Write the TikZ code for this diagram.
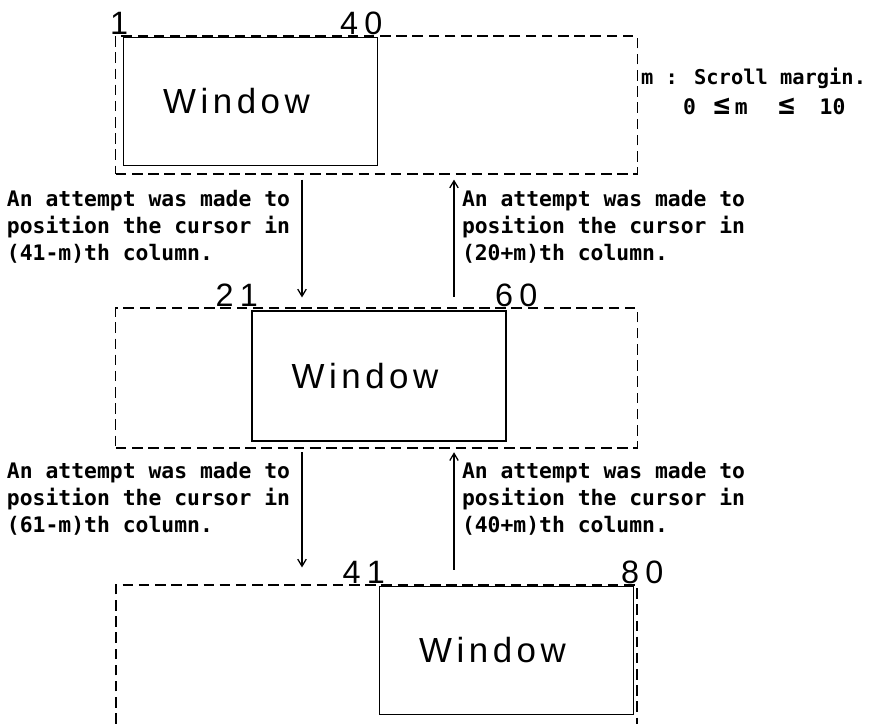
\documentclass[tikz,border=0pt]{standalone}
\usepackage{fontspec}
\usepackage{tikz}
\usetikzlibrary{arrows.meta,positioning}

\newfontfamily\notefont{DejaVu Sans Mono}
\newfontfamily\winfont[LetterSpace=13]{Liberation Sans}
\newfontfamily\colfont[LetterSpace=20]{Liberation Sans}
\newcommand{\winlabel}{Window\hspace*{0.7cm}}
\newcommand{\leqw}{\makebox[0.65cm]{\fontsize{20}{20}\selectfont ≤}}

\begin{document}
\begin{tikzpicture}[
  x=0.025cm, y=-0.025cm,
  every node/.style={inner sep=0pt, outer sep=0pt},
  dashline/.style={draw, dash pattern=on 7.5pt off 4pt, line width=0.75pt},
  frame/.style={rectangle, dashline, minimum width=13.025cm},
  win/.style={rectangle, draw, line width=0.9pt, minimum width=6.35cm,
              minimum height=3.2cm, font={\winfont\fontsize{24.8}{28}\selectfont}},
  colnum/.style={font={\colfont\fontsize{23}{24}\selectfont}},
  note/.style={align=left, font={\notefont\bfseries\fontsize{15.2}{19.2}\selectfont}},
  arrow/.style={-{Straight Barb[length=5pt,width=6pt]}, line width=0.9pt}
]
\useasboundingbox (0,0) rectangle (874,723);

% the 80 columns of a line
\node[frame, minimum height=3.45cm] (line1) at (376.5,105) {};
\node[frame, minimum height=3.5cm] (line2) at (376.5,378) {};
\coordinate (line3sw) at (116,740);
\coordinate (line3nw) at (116,585);
\coordinate (line3ne) at (637,585);
\coordinate (line3se) at (637,740);
\draw[dashline] (line3sw) -- (line3nw) -- (line3ne) -- (line3se);

% the 40 columns shown
\node[win] (win1) at (250.5,101.5) {\winlabel};
\node[win, minimum height=3.25cm] (win2) at (379,376) {\winlabel};
\node[win] (win3) at (506.5,650.5) {\winlabel};

\node[colnum, anchor=base east] (c1) at (128,34) {1};
\node[colnum, anchor=base west] (c40) at (340,34) {40};
\node[colnum, anchor=base east] (c21) at (258,306) {21};
\node[colnum, anchor=base west] (c60) at (495,306) {60};
\node[colnum, anchor=base east] (c41) at (385,583) {41};
\node[colnum, anchor=base west] (c80) at (621,583) {80};

\node[note, anchor=north west, font={\notefont\bfseries\fontsize{14.5}{19.2}\selectfont}]
  (margin) at (641,68) {m : Scroll margin.};
\node[note, anchor=north west] (range) at (683,98) {0 \leqw m\hspace{0.65cm}\leqw\hspace{0.5cm}10};

\node[note, anchor=north west] (down1) at (7,190)
  {An attempt was made to\\position the cursor in\\(41-m)th column.};
\node[note, anchor=north west] (up1) at (462,190)
  {An attempt was made to\\position the cursor in\\(20+m)th column.};
\node[note, anchor=north west] (down2) at (7,462)
  {An attempt was made to\\position the cursor in\\(61-m)th column.};
\node[note, anchor=north west] (up2) at (462,462)
  {An attempt was made to\\position the cursor in\\(40+m)th column.};

\coordinate (colL) at (302,0);
\coordinate (colR) at (454,0);
\draw[arrow, shorten <=4pt, shorten >=7.5pt] (line1.south -| colL) -- (line2.north -| colL);
\draw[arrow, shorten <=8pt, shorten >=4pt] (line2.north -| colR) -- (line1.south -| colR);
\draw[arrow, shorten <=3pt, shorten >=12.5pt] (line2.south -| colL) -- (line3nw -| colL);
\draw[arrow, shorten <=11pt, shorten >=3pt] (line3nw -| colR) -- (line2.south -| colR);

\end{tikzpicture}
\end{document}
